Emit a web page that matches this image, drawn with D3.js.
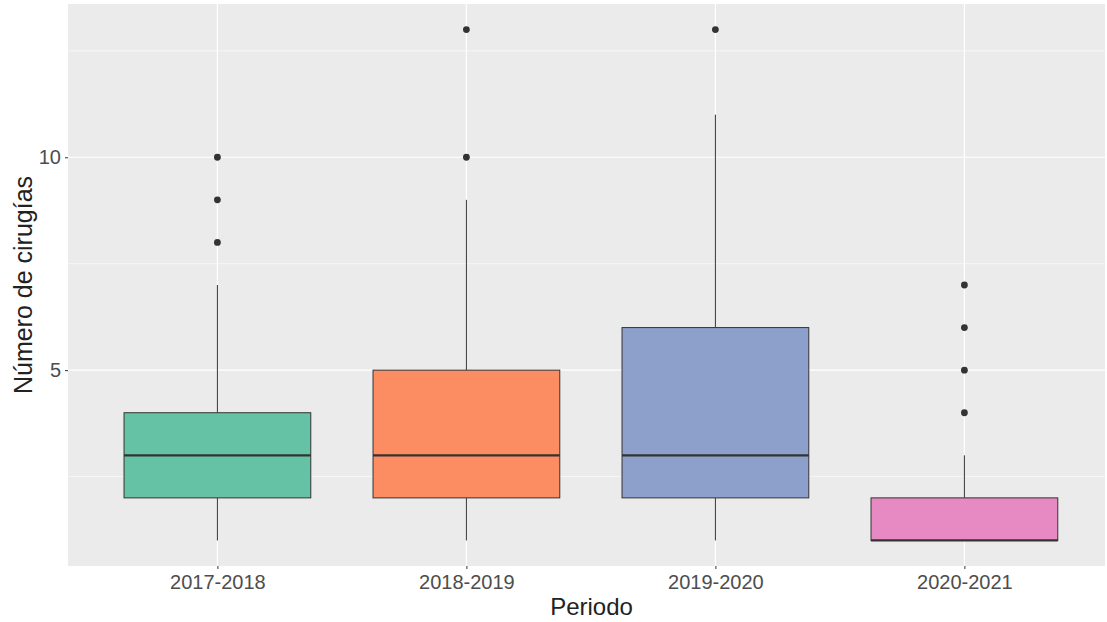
<!DOCTYPE html>
<html>
<head>
<meta charset="UTF-8">
<title>Número de cirugías por periodo</title>
<script src="https://d3js.org/d3.v7.min.js"></script>
<style>
  body { margin: 0; background: #ffffff; }
  svg text { font-family: "Liberation Sans", Arial, sans-serif; }
</style>
</head>
<body>
<div id="chart"></div>
<script>
// data
var periods = ["2017-2018", "2018-2019", "2019-2020", "2020-2021"];
var lowWhisker = [1, 1, 1, 1];
var q1 = [2, 2, 2, 1];
var medians = [3, 3, 3, 1];
var q3 = [4, 5, 6, 2];
var highWhisker = [7, 9, 11, 3];
var outliers = [[8, 9, 10], [10, 13], [13], [4, 5, 6, 7]];
var yTicks = [5, 10];
var yMinor = [2.5, 7.5, 12.5];
var fills = ["#66C2A5", "#FC8D62", "#8DA0CB", "#E78AC3"];

var chartW = 1107, chartH = 622;
var panelLeft = 68, panelTop = 4, panelBottom = 566;
var step = 249;

var svg = d3.select("#chart").append("svg")
    .attr("width", chartW)
    .attr("height", chartH);

// ggplot style: discrete axis expanded by 0.6 each side
var x = d3.scaleLinear()
    .domain([0.4, periods.length + 0.6])
    .range([panelLeft, panelLeft + step * (periods.length + 0.2)]);

var y = d3.scaleLinear()
    .domain([0.4, 13.6])
    .range([panelBottom, panelTop]);

var panelRight = Math.min(x(periods.length + 0.6), chartW - 2);

// panel background
svg.append("rect")
    .attr("x", panelLeft).attr("y", panelTop)
    .attr("width", panelRight - panelLeft)
    .attr("height", panelBottom - panelTop)
    .attr("fill", "#EBEBEB");

// minor grid
svg.selectAll(".minor").data(yMinor).enter().append("line")
    .attr("x1", panelLeft).attr("x2", panelRight)
    .attr("y1", function(d) { return y(d); })
    .attr("y2", function(d) { return y(d); })
    .attr("stroke", "#ffffff").attr("stroke-width", 0.6);

// major grid
svg.selectAll(".major").data(yTicks).enter().append("line")
    .attr("x1", panelLeft).attr("x2", panelRight)
    .attr("y1", function(d) { return y(d); })
    .attr("y2", function(d) { return y(d); })
    .attr("stroke", "#ffffff").attr("stroke-width", 1.2);

svg.selectAll(".vgrid").data(periods).enter().append("line")
    .attr("x1", function(d, i) { return x(i + 1); })
    .attr("x2", function(d, i) { return x(i + 1); })
    .attr("y1", panelTop).attr("y2", panelBottom)
    .attr("stroke", "#ffffff").attr("stroke-width", 1.2);

var boxW = step * 0.75;
var groups = svg.selectAll(".box").data(periods).enter().append("g");

// whiskers
groups.append("line")
    .attr("x1", function(d, i) { return x(i + 1); })
    .attr("x2", function(d, i) { return x(i + 1); })
    .attr("y1", function(d, i) { return y(q3[i]); })
    .attr("y2", function(d, i) { return y(highWhisker[i]); })
    .attr("stroke", "#333333").attr("stroke-width", 1);
groups.append("line")
    .attr("x1", function(d, i) { return x(i + 1); })
    .attr("x2", function(d, i) { return x(i + 1); })
    .attr("y1", function(d, i) { return y(q1[i]); })
    .attr("y2", function(d, i) { return y(lowWhisker[i]); })
    .attr("stroke", "#333333").attr("stroke-width", 1);

// boxes
groups.append("rect")
    .attr("x", function(d, i) { return x(i + 1) - boxW / 2; })
    .attr("y", function(d, i) { return y(q3[i]); })
    .attr("width", boxW)
    .attr("height", function(d, i) { return y(q1[i]) - y(q3[i]); })
    .attr("fill", function(d, i) { return fills[i]; })
    .attr("stroke", "#333333").attr("stroke-width", 1);

// medians
groups.append("line")
    .attr("x1", function(d, i) { return x(i + 1) - boxW / 2; })
    .attr("x2", function(d, i) { return x(i + 1) + boxW / 2; })
    .attr("y1", function(d, i) { return y(medians[i]); })
    .attr("y2", function(d, i) { return y(medians[i]); })
    .attr("stroke", "#333333").attr("stroke-width", 2.3);

// outlier points
groups.each(function(d, i) {
    d3.select(this).selectAll("circle").data(outliers[i]).enter().append("circle")
        .attr("cx", x(i + 1))
        .attr("cy", function(v) { return y(v); })
        .attr("r", 3.4)
        .attr("fill", "#333333");
});

// axes
var yAxis = d3.axisLeft(y).tickValues(yTicks).tickSize(3).tickPadding(4);
var gy = svg.append("g").attr("transform", "translate(" + panelLeft + ",0)").call(yAxis);
gy.select(".domain").remove();
gy.selectAll("line").attr("stroke", "#333333");
gy.selectAll("text").attr("font-size", "20px").attr("fill", "#4D4D4D");

var xAxis = d3.axisBottom(x).tickValues(d3.range(1, periods.length + 1))
    .tickFormat(function(d) { return periods[d - 1]; })
    .tickSize(3).tickPadding(6);
var gx = svg.append("g").attr("transform", "translate(0," + panelBottom + ")").call(xAxis);
gx.select(".domain").remove();
gx.selectAll("line").attr("stroke", "#333333");
gx.selectAll("text").attr("font-size", "20px").attr("fill", "#4D4D4D");

// axis titles
svg.append("text")
    .attr("x", (panelLeft + panelRight) / 2 + 5)
    .attr("y", 615)
    .attr("text-anchor", "middle")
    .attr("font-size", "24px")
    .attr("fill", "#222222")
    .text("Periodo");

svg.append("text")
    .attr("transform", "translate(32," + ((panelTop + panelBottom) / 2) + ") rotate(-90)")
    .attr("text-anchor", "middle")
    .attr("font-size", "25px")
    .attr("fill", "#222222")
    .text("Número de cirugías");
</script>
</body>
</html>
